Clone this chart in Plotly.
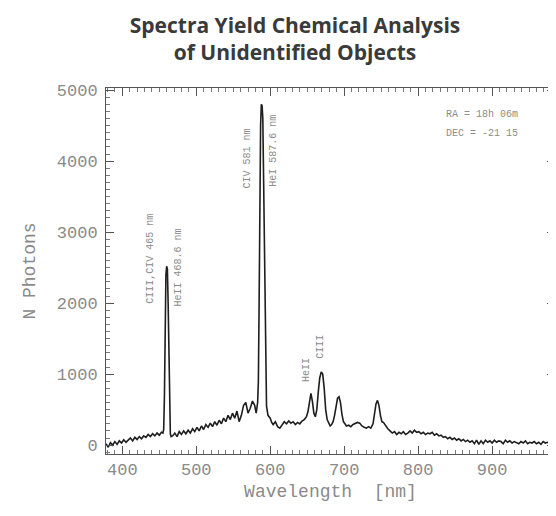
import plotly.graph_objects as go

# Spectrum (wavelength in nm, photon counts)
wavelength = [
    378, 381, 384, 387, 390, 393, 396, 399, 402, 405, 408, 411, 414, 417, 420, 423, 426, 429,
    432, 435, 438, 441, 444, 447, 450, 453, 455,
    456, 457, 458, 459, 460, 461, 462, 463, 464, 465, 466,
    468, 471, 474, 477, 480, 483, 486, 489, 492, 495, 498, 501, 504, 507, 510, 513, 516, 519,
    522, 525, 528, 531, 534, 537, 540, 543, 546, 549, 552, 555, 558, 561, 564, 567, 570, 573,
    576, 579, 581, 583,
    584, 585, 586, 587, 588, 589, 590, 591, 592, 593, 594, 595,
    597, 600, 602, 604, 607, 610, 613, 616, 619, 622, 625, 628, 631, 634, 637, 640, 643, 646,
    649, 651, 653, 655, 657, 659, 661, 663, 665, 667, 669, 671, 673, 675, 677, 679, 681, 683,
    685, 687, 689, 691, 693, 695, 697, 699, 701, 703, 706, 709, 712, 715, 718, 721, 724, 727,
    730, 733, 736, 739, 741, 743, 745, 747, 749, 751, 753, 756, 759, 762, 765, 768, 771, 774,
    777, 780, 783, 786, 789, 792, 795, 798, 801, 804, 807, 810, 813, 816, 819, 822, 825, 828,
    831, 834, 837, 840, 843, 846, 849, 852, 855, 858, 861, 864, 867, 870, 873, 876, 879, 882,
    885, 888, 891, 894, 897, 900, 903, 906, 909, 912, 915, 918, 921, 924, 927, 930, 933, 936,
    939, 942, 945, 948, 951, 954, 957, 960, 963, 966, 969, 972, 975, 978, 981, 984, 987,
]
photons = [
    20, -30, 35, 0, 50, 10, 60, 30, 75, 40, 70, 100, 60, 110, 80, 120, 90, 130,
    110, 150, 120, 160, 130, 170, 140, 180, 170,
    220, 700, 1700, 2400, 2520, 2480, 2000, 1100, 400, 160, 120,
    130, 170, 120, 190, 150, 200, 160, 210, 170, 230, 190, 250, 200, 270, 220, 290, 250, 310,
    260, 330, 280, 350, 300, 380, 330, 420, 360, 450, 380, 480, 330, 420, 560, 600, 450, 520,
    620, 560, 450, 600,
    900, 2000, 3500, 4500, 4800, 4780, 4600, 3800, 2500, 1400, 800, 550,
    420, 380, 320, 290, 330, 260, 240, 290, 330, 300, 340, 310, 330, 290, 320, 300, 340, 360,
    400, 470, 600, 730, 620, 450, 400, 500, 750, 950, 1030, 1000, 800, 500, 360, 300, 270, 290,
    330, 420, 560, 660, 680, 600, 430, 330, 300, 270, 280, 260, 290, 300, 320, 310, 270, 250,
    240, 260, 240, 300, 420, 580, 630, 560, 420, 330, 320, 270, 230, 200, 170, 190, 150, 180,
    160, 190, 150, 170, 200, 170, 210, 180, 190, 160, 180, 150, 170, 160, 180, 140, 160, 130,
    140, 110, 120, 90, 110, 80, 100, 70, 90, 60, 80, 50, 70, 40, 60, 20, 70, 10,
    60, 20, 70, 40, 60, 30, 70, 40, 60, 50, 20, 70, 40, 60, 30, 50, 40, 20,
    50, 30, 60, 20, 40, 30, 50, 20, 40, 10, 50, 30, 40, 20, 50, 30, 40,
]

# Line labels (text, wavelength position, photon position)
line_labels = ["CIII,CIV 465 nm", "HeII 468.6 nm", "CIV 581 nm", "HeI 587.6 nm", "HeII", "CIII"]
label_x = [438, 476, 569, 604, 650, 668]
label_y = [2630, 2510, 4040, 4150, 1060, 1380]

coord_lines = ["RA = 18h 06m", "DEC = -21 15"]
coord_x = 835
coord_y = [4650, 4390]

x_ticks = [400, 500, 600, 700, 800, 900]
y_ticks = [0, 1000, 2000, 3000, 4000, 5000]

fig = go.Figure()
fig.add_trace(go.Scatter(
    x=wavelength, y=photons, mode="lines",
    line=dict(color="#1e1e1e", width=1.6),
    hoverinfo="skip", showlegend=False,
))

for t, lx, ly in zip(line_labels, label_x, label_y):
    fig.add_annotation(
        x=lx, y=ly, xref="x", yref="y", text=t, textangle=-90, showarrow=False,
        font=dict(family="Liberation Mono", size=10, color="#8c8c8c"),
    )

for t, cy in zip(coord_lines, coord_y):
    fig.add_annotation(
        x=coord_x, y=cy, xref="x", yref="y", text=t, showarrow=False,
        xanchor="left", align="left",
        font=dict(family="Liberation Mono", size=10, color="#8c8c8c"),
    )

axis_font = dict(family="Liberation Mono", size=17, color="#8a8a8a")

fig.update_layout(
    width=556, height=516,
    margin=dict(l=98, r=9, t=80, b=70),
    paper_bgcolor="white", plot_bgcolor="white",
    title=dict(
        text="<b>Spectra Yield Chemical Analysis<br>of Unidentified Objects</b>",
        x=287 / 556, xanchor="center", xref="container",
        y=1 - 25 / 516, yanchor="middle", yref="container",
        font=dict(family="Open Sans", size=21, color="#3a3a3a"),
    ),
    xaxis=dict(
        range=[378, 985], tickvals=x_ticks, ticks="inside", ticklen=8, tickcolor="#555",
        showline=True, linecolor="#555", linewidth=1, mirror="ticks", showgrid=False,
        zeroline=False, tickfont=axis_font, automargin=False,
        minor=dict(dtick=10, ticks="inside", ticklen=4, tickcolor="#777", showgrid=False),
        title=dict(text="Wavelength  [nm]", font=dict(family="Liberation Mono", size=18, color="#8a8a8a"), standoff=4),
    ),
    yaxis=dict(
        range=[-125, 5030], tickvals=y_ticks, ticks="inside", ticklen=8, tickcolor="#555",
        showline=True, linecolor="#555", linewidth=1, mirror="ticks", showgrid=False,
        zeroline=False, tickfont=axis_font, ticklabelstandoff=4, automargin=False,
        minor=dict(dtick=100, ticks="inside", ticklen=4, tickcolor="#777", showgrid=False),
        title=dict(text="N Photons", font=dict(family="Liberation Mono", size=18, color="#8a8a8a"), standoff=16),
    ),
)

fig.write_html("out.html")
